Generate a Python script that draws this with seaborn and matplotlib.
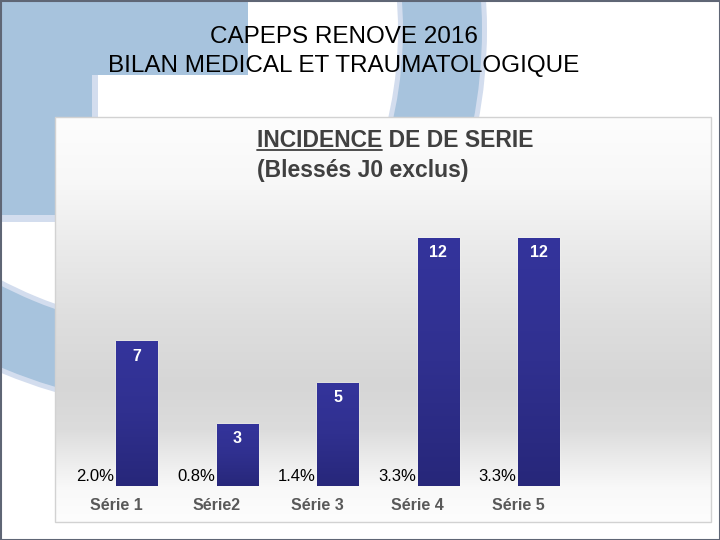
import numpy as np
import pandas as pd
import matplotlib
matplotlib.use("Agg")
import matplotlib.pyplot as plt
import seaborn as sns
from matplotlib.patches import Rectangle, Wedge
from matplotlib.colors import LinearSegmentedColormap

# données
categories = ["Série 1", "Série2", "Série 3", "Série 4", "Série 5"]
nb_blesses = [7, 3, 5, 12, 12]
incidence = [2.0, 0.8, 1.4, 3.3, 3.3]  # en %

# deux séries comme dans excel : incidence (barre invisible) + nombre de blessés
df = pd.DataFrame({
    "serie": categories * 2,
    "type": ["incidence"] * len(categories) + ["blesses"] * len(categories),
    "valeur": [v / 100 for v in incidence] + nb_blesses,
})

sns.set_theme(style="white")
plt.rcParams["font.family"] = ["Liberation Sans", "DejaVu Sans"]

fig = plt.figure(figsize=(7.2, 5.4), dpi=100)

# fond de la diapo (coordonnées en pixels)
bg = fig.add_axes([0, 0, 1, 1], zorder=0)
bg.set_xlim(0, 720)
bg.set_ylim(540, 0)
bg.axis("off")

bleu = "#a7c3dd"
bleu_clair = "#d3ddee"

bg.add_patch(Rectangle((0, 0), 98, 222, color=bleu_clair, lw=0))
bg.add_patch(Rectangle((0, 0), 92, 215, color=bleu, lw=0))
bg.add_patch(Rectangle((0, 0), 248, 75, color=bleu, lw=0))

# arcs du logo
clip_g = Rectangle((0, 200), 120, 340, transform=bg.transData)
for r, w, c in [(513, 84, bleu_clair), (508, 74, bleu)]:
    arc = Wedge((200, -100), r, 0, 360, width=w, color=c, lw=0)
    bg.add_patch(arc)
    arc.set_clip_path(clip_g)

clip_d = Rectangle((300, 0), 300, 118, transform=bg.transData)
for r, w, c in [(487, 89, bleu_clair), (482, 79, bleu)]:
    arc = Wedge((0, 30), r, 0, 360, width=w, color=c, lw=0)
    bg.add_patch(arc)
    arc.set_clip_path(clip_d)

bg.add_patch(Rectangle((0.5, 0.5), 719, 539, fill=False, ec="#5f6675", lw=1.5))

# cadre du graphique avec dégradé gris
ys = np.arange(117, 523)
stops_y = [117, 180, 250, 320, 385, 430, 465, 490, 522]
stops_g = [253, 248, 234, 222, 214, 220, 238, 249, 253]
gris = np.interp(ys, stops_y, stops_g) / 255
grad = np.repeat(gris[:, None], 2, axis=1)
bg.imshow(np.dstack([grad, grad, grad]), extent=[55, 711, 522, 117],
          aspect="auto", zorder=1)
bg.add_patch(Rectangle((55, 117), 656, 405, fill=False, ec="#d2d2d2", lw=1, zorder=2))
bg.set_xlim(0, 720)
bg.set_ylim(540, 0)

# titres
bg.text(344, 43, "CAPEPS RENOVE 2016", ha="center", va="baseline",
        fontsize=17.5, color="black", zorder=3)
bg.text(344, 72, "BILAN MEDICAL ET TRAUMATOLOGIQUE", ha="center", va="baseline",
        fontsize=17.5, color="black", zorder=3)

titre_kw = dict(fontsize=16.5, fontweight="bold", color="#404040", va="baseline", zorder=3)
bg.text(257, 147, "INCIDENCE DE DE SERIE", ha="left", **titre_kw)
bg.text(257, 177, "(Blessés J0 exclus)", ha="left", **titre_kw)

# souligner "INCIDENCE"
tmp = bg.text(257, 147, "INCIDENCE", ha="left", alpha=0, **titre_kw)
fig.canvas.draw()
bb = tmp.get_window_extent()
x_fin = bg.transData.inverted().transform((bb.x1, bb.y0))[0]
bg.plot([257, x_fin], [149.5, 149.5], color="#404040", lw=1.3, zorder=3)

# graphique
ax = fig.add_axes([55 / 720, (540 - 486) / 540, 656 / 720, (486 - 117) / 540], zorder=2)
ax.set_facecolor("none")

sns.barplot(
    data=df, x="serie", y="valeur", hue="type",
    hue_order=["incidence", "blesses"],
    palette=["#2e2e8c", "#2e2e8c"], saturation=1,
    dodge=True, width=0.82, legend=False, ax=ax,
)

# barres de l'incidence invisibles, seulement l'étiquette
for p in ax.containers[0]:
    p.set_alpha(0)
ax.bar_label(ax.containers[0], labels=[f"{v:.1f}%" for v in incidence],
             padding=1, fontsize=12, color="black")

# dégradé sur les barres des blessés
cmap = LinearSegmentedColormap.from_list("barre", ["#27277a", "#30308f", "#34349c"])
degrade = np.linspace(0, 1, 100)[:, None]
for p in ax.containers[1]:
    x0, y0 = p.get_x(), p.get_y()
    w, h = p.get_width(), p.get_height()
    im = ax.imshow(degrade, extent=[x0, x0 + w, y0, y0 + h], origin="lower",
                   aspect="auto", cmap=cmap, zorder=1.5)
    im.set_clip_path(p)

ax.bar_label(ax.containers[1], padding=-16, fontsize=11.5, fontweight="bold",
             color="white")

ax.set_xlim(-0.607, 5.92)
ax.set_ylim(0, 17.85)
ax.set_yticks([])
ax.set_xlabel("")
ax.set_ylabel("")
ax.tick_params(axis="x", length=0, pad=9, labelsize=11.5, labelcolor="#595959")
for t in ax.get_xticklabels():
    t.set_fontweight("bold")
sns.despine(ax=ax, left=True, bottom=True)

fig.savefig("out.png", dpi=100)
